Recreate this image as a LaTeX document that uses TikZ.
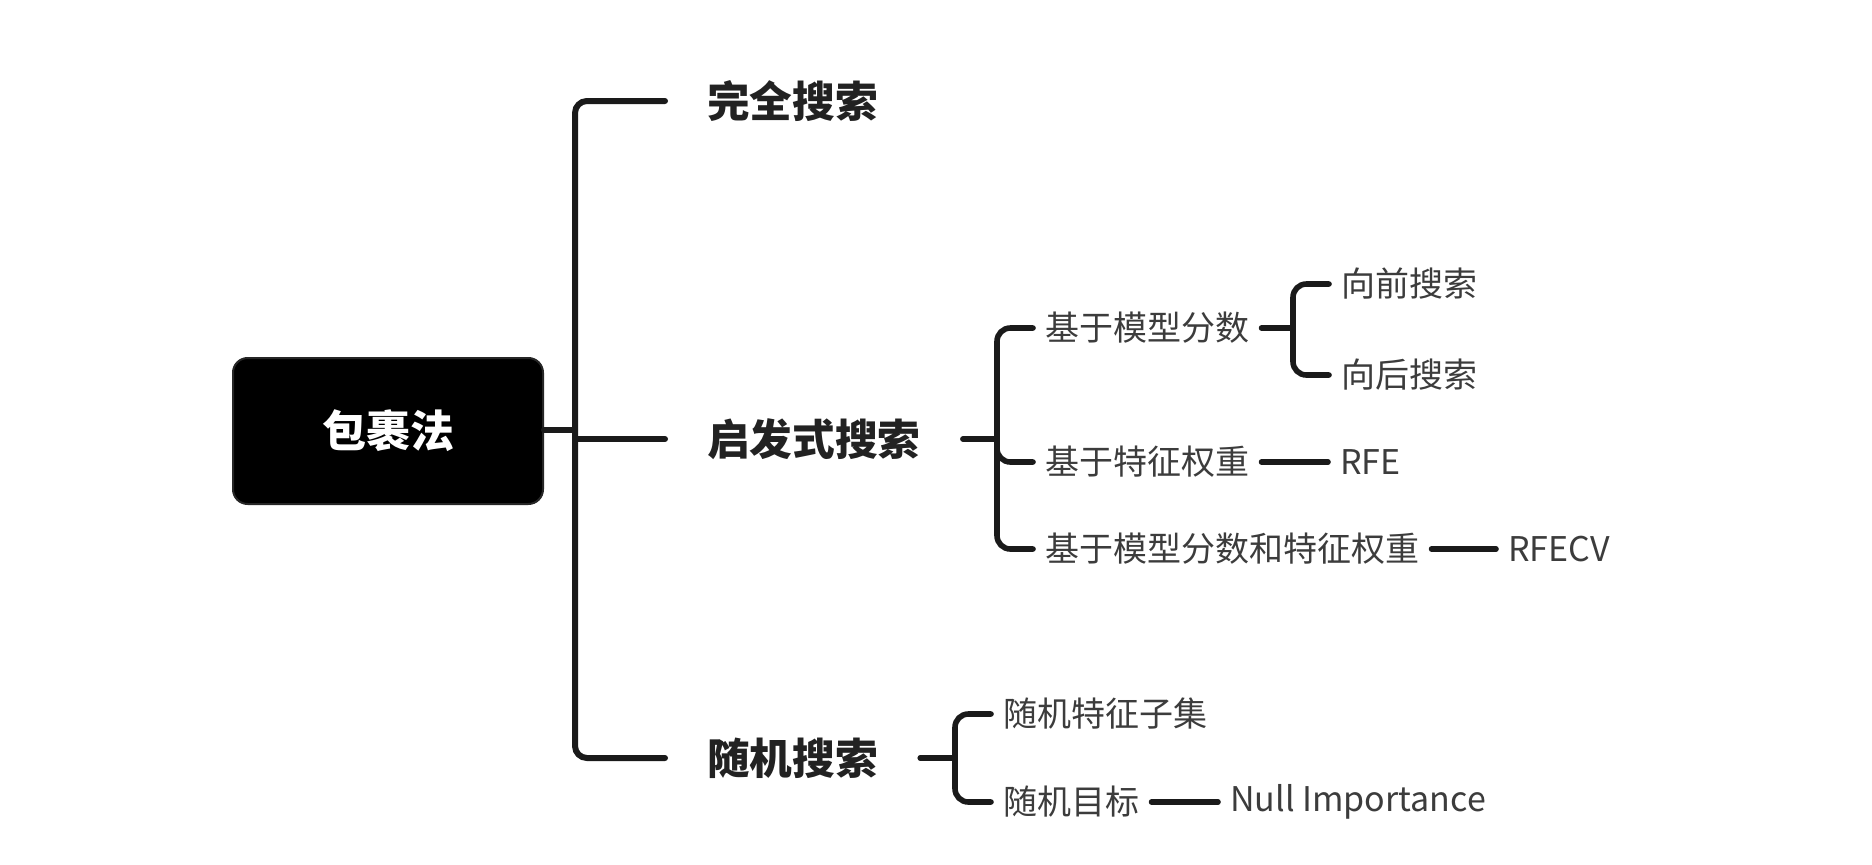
\documentclass[tikz,border=0pt]{standalone}
\usepackage{fontspec}
\setmainfont{Noto Sans CJK SC}
\begin{document}
\begin{tikzpicture}[x=0.75pt,y=-0.75pt,
  every node/.style={font=\fontsize{25.5}{30}\selectfont},
  trunk/.style={line width=4.5pt, draw=linecolor, line cap=round},
  twig/.style={line width=4.2pt, draw=linecolor, line cap=round},
  mainlabel/.style={anchor=west, inner xsep=31.5pt, text=maincolor,
    font=\fontsize{32}{38}\selectfont\bfseries},
  sublabel/.style={anchor=west, inner xsep=9pt, text=subcolor}]
\definecolor{linecolor}{RGB}{26,26,26}
\definecolor{maincolor}{RGB}{34,34,34}
\definecolor{subcolor}{RGB}{60,60,60}
\useasboundingbox (0,0) rectangle (1872,864);
% Root
\node[fill=black, draw=black!85, line width=1.5pt, rounded corners=11pt,
  minimum width=232.5pt, minimum height=109.5pt, text=white,
  font=\fontsize{33}{40}\selectfont\bfseries] (root) at (388,431) {包裹法};
% Main branches
\coordinate (jroot) at (575,430);
\node[mainlabel] (full) at (665,101) {完全搜索};
\node[mainlabel] (heur) at (665,439) {启发式搜索};
\node[mainlabel] (rand) at (665,758) {随机搜索};
\draw[trunk] (root.east |- jroot) -- (jroot);
\draw[trunk, rounded corners=9pt] (full.west) -| (jroot) |- (rand.west);
\draw[trunk] (jroot |- heur.west) -- (heur.west);
% Heuristic search
\coordinate (jheur) at (997,439);
\node[sublabel] (score) at (1033,328) {基于模型分数};
\node[sublabel] (weight) at (1033,462) {基于特征权重};
\node[sublabel] (both) at (1033,549) {基于模型分数和特征权重};
\draw[twig] (heur.east) -- (jheur);
\draw[twig, rounded corners=10pt] (score.west) -| (jheur) |- (both.west);
\draw[twig, rounded corners=10pt] (jheur) |- (weight.west);
% Model score: forward / backward
\coordinate (jscore) at (1293,328);
\node[sublabel] (fwd) at (1329,284) {向前搜索};
\node[sublabel] (bwd) at (1329,375) {向后搜索};
\draw[twig] (score.east) -- (jscore);
\draw[twig, rounded corners=10pt] (fwd.west) -| (jscore) |- (bwd.west);
% Leaves
\node[sublabel] (rfe) at (1328,462) {RFE};
\draw[twig] (weight.east) -- (rfe.west);
\node[sublabel] (rfecv) at (1496,549) {RFECV};
\draw[twig] (both.east) -- (rfecv.west);
% Random search
\coordinate (jrand) at (955,758);
\node[sublabel] (subset) at (991,714) {随机特征子集};
\node[sublabel] (target) at (991,802) {随机目标};
\draw[twig] (rand.east) -- (jrand);
\draw[twig, rounded corners=10pt] (subset.west) -| (jrand) |- (target.west);
\node[sublabel] (null) at (1218,802) {Null Importance};
\draw[twig] (target.east) -- (null.west);
\end{tikzpicture}
\end{document}
